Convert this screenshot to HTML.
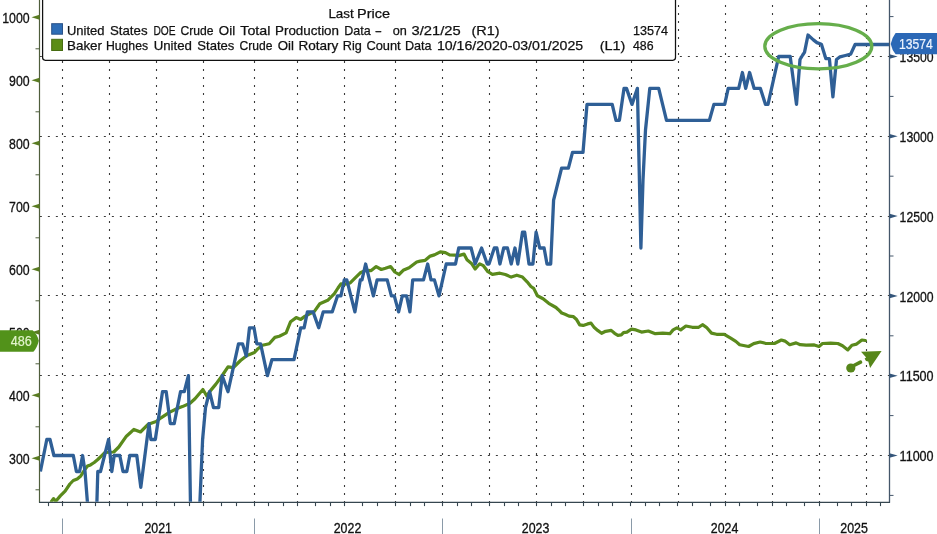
<!DOCTYPE html>
<html><head><meta charset="utf-8"><title>Chart</title>
<style>
html,body{margin:0;padding:0;background:#fff;width:937px;height:534px;overflow:hidden}
svg{display:block;will-change:transform}
.ax{font-family:"Liberation Sans",Arial,sans-serif;font-size:14px;fill:#111;stroke:#111;stroke-width:0.3px}
.lg{white-space:pre;font-family:"Liberation Sans",Arial,sans-serif;font-size:13px;fill:#111;stroke:#111;stroke-width:0.25px}
.vl{font-family:"Liberation Sans",Arial,sans-serif;font-size:14px}
</style></head><body>
<svg width="937" height="534" viewBox="0 0 937 534">
<rect x="0" y="0" width="937" height="534" fill="#ffffff"/>
<line x1="62.5" y1="0" x2="62.5" y2="502.3" stroke="#3a3a3a" stroke-width="1.1" stroke-dasharray="2 6" stroke-dashoffset="3"/>
<line x1="109.5" y1="0" x2="109.5" y2="502.3" stroke="#3a3a3a" stroke-width="1.1" stroke-dasharray="2 6" stroke-dashoffset="3"/>
<line x1="156.5" y1="0" x2="156.5" y2="502.3" stroke="#3a3a3a" stroke-width="1.1" stroke-dasharray="2 6" stroke-dashoffset="3"/>
<line x1="203.5" y1="0" x2="203.5" y2="502.3" stroke="#3a3a3a" stroke-width="1.1" stroke-dasharray="2 6" stroke-dashoffset="3"/>
<line x1="254.5" y1="0" x2="254.5" y2="502.3" stroke="#3a3a3a" stroke-width="1.1" stroke-dasharray="2 6" stroke-dashoffset="3"/>
<line x1="297.5" y1="0" x2="297.5" y2="502.3" stroke="#3a3a3a" stroke-width="1.1" stroke-dasharray="2 6" stroke-dashoffset="3"/>
<line x1="344.5" y1="0" x2="344.5" y2="502.3" stroke="#3a3a3a" stroke-width="1.1" stroke-dasharray="2 6" stroke-dashoffset="3"/>
<line x1="395.5" y1="0" x2="395.5" y2="502.3" stroke="#3a3a3a" stroke-width="1.1" stroke-dasharray="2 6" stroke-dashoffset="3"/>
<line x1="442.5" y1="0" x2="442.5" y2="502.3" stroke="#3a3a3a" stroke-width="1.1" stroke-dasharray="2 6" stroke-dashoffset="3"/>
<line x1="489.5" y1="0" x2="489.5" y2="502.3" stroke="#3a3a3a" stroke-width="1.1" stroke-dasharray="2 6" stroke-dashoffset="3"/>
<line x1="536.5" y1="0" x2="536.5" y2="502.3" stroke="#3a3a3a" stroke-width="1.1" stroke-dasharray="2 6" stroke-dashoffset="3"/>
<line x1="583.5" y1="0" x2="583.5" y2="502.3" stroke="#3a3a3a" stroke-width="1.1" stroke-dasharray="2 6" stroke-dashoffset="3"/>
<line x1="631.5" y1="0" x2="631.5" y2="502.3" stroke="#3a3a3a" stroke-width="1.1" stroke-dasharray="2 6" stroke-dashoffset="3"/>
<line x1="678.5" y1="0" x2="678.5" y2="502.3" stroke="#3a3a3a" stroke-width="1.1" stroke-dasharray="2 6" stroke-dashoffset="3"/>
<line x1="725.5" y1="0" x2="725.5" y2="502.3" stroke="#3a3a3a" stroke-width="1.1" stroke-dasharray="2 6" stroke-dashoffset="3"/>
<line x1="772.5" y1="0" x2="772.5" y2="502.3" stroke="#3a3a3a" stroke-width="1.1" stroke-dasharray="2 6" stroke-dashoffset="3"/>
<line x1="819.5" y1="0" x2="819.5" y2="502.3" stroke="#3a3a3a" stroke-width="1.1" stroke-dasharray="2 6" stroke-dashoffset="3"/>
<line x1="866.5" y1="0" x2="866.5" y2="502.3" stroke="#3a3a3a" stroke-width="1.1" stroke-dasharray="2 6" stroke-dashoffset="3"/>
<line x1="39.5" y1="56.5" x2="889.5" y2="56.5" stroke="#3a3a3a" stroke-width="1.1" stroke-dasharray="2 6" stroke-dashoffset="-0.35"/>
<line x1="39.5" y1="136.5" x2="889.5" y2="136.5" stroke="#3a3a3a" stroke-width="1.1" stroke-dasharray="2 6" stroke-dashoffset="-0.35"/>
<line x1="39.5" y1="216.5" x2="889.5" y2="216.5" stroke="#3a3a3a" stroke-width="1.1" stroke-dasharray="2 6" stroke-dashoffset="-0.35"/>
<line x1="39.5" y1="295.5" x2="889.5" y2="295.5" stroke="#3a3a3a" stroke-width="1.1" stroke-dasharray="2 6" stroke-dashoffset="-0.35"/>
<line x1="39.5" y1="375.5" x2="889.5" y2="375.5" stroke="#3a3a3a" stroke-width="1.1" stroke-dasharray="2 6" stroke-dashoffset="-0.35"/>
<line x1="39.5" y1="455.5" x2="889.5" y2="455.5" stroke="#3a3a3a" stroke-width="1.1" stroke-dasharray="2 6" stroke-dashoffset="-0.35"/>
<line x1="39.5" y1="0" x2="39.5" y2="502.8" stroke="#4f5e3c" stroke-width="1.2"/>
<line x1="889.5" y1="0" x2="889.5" y2="502.8" stroke="#44566a" stroke-width="1.3"/>
<line x1="39.0" y1="502.3" x2="890.0" y2="502.3" stroke="#36464f" stroke-width="1.2"/>
<polygon points="39.5,455.8 39.5,460.8 31.5,458.3" fill="#5a7c22"/>
<text x="9.1" y="463.7" textLength="20.5" lengthAdjust="spacingAndGlyphs" class="ax">300</text>
<polygon points="39.5,392.8 39.5,397.8 31.5,395.3" fill="#5a7c22"/>
<text x="9.1" y="400.7" textLength="20.5" lengthAdjust="spacingAndGlyphs" class="ax">400</text>
<polygon points="39.5,329.8 39.5,334.8 31.5,332.3" fill="#5a7c22"/>
<text x="9.1" y="337.7" textLength="20.5" lengthAdjust="spacingAndGlyphs" class="ax">500</text>
<polygon points="39.5,266.8 39.5,271.8 31.5,269.3" fill="#5a7c22"/>
<text x="9.1" y="274.7" textLength="20.5" lengthAdjust="spacingAndGlyphs" class="ax">600</text>
<polygon points="39.5,203.8 39.5,208.8 31.5,206.3" fill="#5a7c22"/>
<text x="9.1" y="211.7" textLength="20.5" lengthAdjust="spacingAndGlyphs" class="ax">700</text>
<polygon points="39.5,140.8 39.5,145.8 31.5,143.3" fill="#5a7c22"/>
<text x="9.1" y="148.7" textLength="20.5" lengthAdjust="spacingAndGlyphs" class="ax">800</text>
<polygon points="39.5,77.8 39.5,82.8 31.5,80.3" fill="#5a7c22"/>
<text x="9.1" y="85.7" textLength="20.5" lengthAdjust="spacingAndGlyphs" class="ax">900</text>
<polygon points="39.5,14.8 39.5,19.8 31.5,17.3" fill="#5a7c22"/>
<text x="2.2" y="22.7" textLength="27.4" lengthAdjust="spacingAndGlyphs" class="ax">1000</text>
<line x1="35.5" y1="489.8" x2="39.5" y2="489.8" stroke="#4f5e3c" stroke-width="1"/>
<line x1="35.5" y1="426.8" x2="39.5" y2="426.8" stroke="#4f5e3c" stroke-width="1"/>
<line x1="35.5" y1="363.8" x2="39.5" y2="363.8" stroke="#4f5e3c" stroke-width="1"/>
<line x1="35.5" y1="300.8" x2="39.5" y2="300.8" stroke="#4f5e3c" stroke-width="1"/>
<line x1="35.5" y1="237.8" x2="39.5" y2="237.8" stroke="#4f5e3c" stroke-width="1"/>
<line x1="35.5" y1="174.8" x2="39.5" y2="174.8" stroke="#4f5e3c" stroke-width="1"/>
<line x1="35.5" y1="111.8" x2="39.5" y2="111.8" stroke="#4f5e3c" stroke-width="1"/>
<line x1="35.5" y1="48.8" x2="39.5" y2="48.8" stroke="#4f5e3c" stroke-width="1"/>
<polygon points="889.5,453.2 889.5,457.8 897.7,455.5" fill="#34557a"/>
<text x="899.6" y="461.1" textLength="34" lengthAdjust="spacingAndGlyphs" class="ax">11000</text>
<polygon points="889.5,373.4 889.5,378.0 897.7,375.7" fill="#34557a"/>
<text x="899.6" y="381.3" textLength="34" lengthAdjust="spacingAndGlyphs" class="ax">11500</text>
<polygon points="889.5,293.6 889.5,298.2 897.7,295.9" fill="#34557a"/>
<text x="899.6" y="301.5" textLength="34" lengthAdjust="spacingAndGlyphs" class="ax">12000</text>
<polygon points="889.5,213.8 889.5,218.4 897.7,216.1" fill="#34557a"/>
<text x="899.6" y="221.7" textLength="34" lengthAdjust="spacingAndGlyphs" class="ax">12500</text>
<polygon points="889.5,134.0 889.5,138.6 897.7,136.3" fill="#34557a"/>
<text x="899.6" y="141.9" textLength="34" lengthAdjust="spacingAndGlyphs" class="ax">13000</text>
<polygon points="889.5,54.2 889.5,58.8 897.7,56.5" fill="#34557a"/>
<text x="899.6" y="62.1" textLength="34" lengthAdjust="spacingAndGlyphs" class="ax">13500</text>
<line x1="889.5" y1="495.4" x2="893.5" y2="495.4" stroke="#44566a" stroke-width="1"/>
<line x1="889.5" y1="415.6" x2="893.5" y2="415.6" stroke="#44566a" stroke-width="1"/>
<line x1="889.5" y1="335.8" x2="893.5" y2="335.8" stroke="#44566a" stroke-width="1"/>
<line x1="889.5" y1="256.0" x2="893.5" y2="256.0" stroke="#44566a" stroke-width="1"/>
<line x1="889.5" y1="176.2" x2="893.5" y2="176.2" stroke="#44566a" stroke-width="1"/>
<line x1="889.5" y1="96.4" x2="893.5" y2="96.4" stroke="#44566a" stroke-width="1"/>
<line x1="889.5" y1="16.6" x2="893.5" y2="16.6" stroke="#44566a" stroke-width="1"/>
<line x1="48.5" y1="502.3" x2="48.5" y2="506.1" stroke="#36464f" stroke-width="1.1"/>
<line x1="62.5" y1="502.3" x2="62.5" y2="506.1" stroke="#36464f" stroke-width="1.1"/>
<line x1="80.5" y1="502.3" x2="80.5" y2="506.1" stroke="#36464f" stroke-width="1.1"/>
<line x1="95.5" y1="502.3" x2="95.5" y2="506.1" stroke="#36464f" stroke-width="1.1"/>
<line x1="109.5" y1="502.3" x2="109.5" y2="506.1" stroke="#36464f" stroke-width="1.1"/>
<line x1="127.5" y1="502.3" x2="127.5" y2="506.1" stroke="#36464f" stroke-width="1.1"/>
<line x1="142.5" y1="502.3" x2="142.5" y2="506.1" stroke="#36464f" stroke-width="1.1"/>
<line x1="156.5" y1="502.3" x2="156.5" y2="506.1" stroke="#36464f" stroke-width="1.1"/>
<line x1="174.5" y1="502.3" x2="174.5" y2="506.1" stroke="#36464f" stroke-width="1.1"/>
<line x1="189.5" y1="502.3" x2="189.5" y2="506.1" stroke="#36464f" stroke-width="1.1"/>
<line x1="203.5" y1="502.3" x2="203.5" y2="506.1" stroke="#36464f" stroke-width="1.1"/>
<line x1="221.5" y1="502.3" x2="221.5" y2="506.1" stroke="#36464f" stroke-width="1.1"/>
<line x1="236.5" y1="502.3" x2="236.5" y2="506.1" stroke="#36464f" stroke-width="1.1"/>
<line x1="254.5" y1="502.3" x2="254.5" y2="506.1" stroke="#36464f" stroke-width="1.1"/>
<line x1="268.5" y1="502.3" x2="268.5" y2="506.1" stroke="#36464f" stroke-width="1.1"/>
<line x1="283.5" y1="502.3" x2="283.5" y2="506.1" stroke="#36464f" stroke-width="1.1"/>
<line x1="297.5" y1="502.3" x2="297.5" y2="506.1" stroke="#36464f" stroke-width="1.1"/>
<line x1="315.5" y1="502.3" x2="315.5" y2="506.1" stroke="#36464f" stroke-width="1.1"/>
<line x1="330.5" y1="502.3" x2="330.5" y2="506.1" stroke="#36464f" stroke-width="1.1"/>
<line x1="344.5" y1="502.3" x2="344.5" y2="506.1" stroke="#36464f" stroke-width="1.1"/>
<line x1="362.5" y1="502.3" x2="362.5" y2="506.1" stroke="#36464f" stroke-width="1.1"/>
<line x1="377.5" y1="502.3" x2="377.5" y2="506.1" stroke="#36464f" stroke-width="1.1"/>
<line x1="395.5" y1="502.3" x2="395.5" y2="506.1" stroke="#36464f" stroke-width="1.1"/>
<line x1="410.5" y1="502.3" x2="410.5" y2="506.1" stroke="#36464f" stroke-width="1.1"/>
<line x1="424.5" y1="502.3" x2="424.5" y2="506.1" stroke="#36464f" stroke-width="1.1"/>
<line x1="442.5" y1="502.3" x2="442.5" y2="506.1" stroke="#36464f" stroke-width="1.1"/>
<line x1="457.5" y1="502.3" x2="457.5" y2="506.1" stroke="#36464f" stroke-width="1.1"/>
<line x1="471.5" y1="502.3" x2="471.5" y2="506.1" stroke="#36464f" stroke-width="1.1"/>
<line x1="489.5" y1="502.3" x2="489.5" y2="506.1" stroke="#36464f" stroke-width="1.1"/>
<line x1="504.5" y1="502.3" x2="504.5" y2="506.1" stroke="#36464f" stroke-width="1.1"/>
<line x1="518.5" y1="502.3" x2="518.5" y2="506.1" stroke="#36464f" stroke-width="1.1"/>
<line x1="536.5" y1="502.3" x2="536.5" y2="506.1" stroke="#36464f" stroke-width="1.1"/>
<line x1="551.5" y1="502.3" x2="551.5" y2="506.1" stroke="#36464f" stroke-width="1.1"/>
<line x1="565.5" y1="502.3" x2="565.5" y2="506.1" stroke="#36464f" stroke-width="1.1"/>
<line x1="583.5" y1="502.3" x2="583.5" y2="506.1" stroke="#36464f" stroke-width="1.1"/>
<line x1="598.5" y1="502.3" x2="598.5" y2="506.1" stroke="#36464f" stroke-width="1.1"/>
<line x1="612.5" y1="502.3" x2="612.5" y2="506.1" stroke="#36464f" stroke-width="1.1"/>
<line x1="630.5" y1="502.3" x2="630.5" y2="506.1" stroke="#36464f" stroke-width="1.1"/>
<line x1="645.5" y1="502.3" x2="645.5" y2="506.1" stroke="#36464f" stroke-width="1.1"/>
<line x1="659.5" y1="502.3" x2="659.5" y2="506.1" stroke="#36464f" stroke-width="1.1"/>
<line x1="677.5" y1="502.3" x2="677.5" y2="506.1" stroke="#36464f" stroke-width="1.1"/>
<line x1="692.5" y1="502.3" x2="692.5" y2="506.1" stroke="#36464f" stroke-width="1.1"/>
<line x1="710.5" y1="502.3" x2="710.5" y2="506.1" stroke="#36464f" stroke-width="1.1"/>
<line x1="725.5" y1="502.3" x2="725.5" y2="506.1" stroke="#36464f" stroke-width="1.1"/>
<line x1="739.5" y1="502.3" x2="739.5" y2="506.1" stroke="#36464f" stroke-width="1.1"/>
<line x1="757.5" y1="502.3" x2="757.5" y2="506.1" stroke="#36464f" stroke-width="1.1"/>
<line x1="772.5" y1="502.3" x2="772.5" y2="506.1" stroke="#36464f" stroke-width="1.1"/>
<line x1="786.5" y1="502.3" x2="786.5" y2="506.1" stroke="#36464f" stroke-width="1.1"/>
<line x1="804.5" y1="502.3" x2="804.5" y2="506.1" stroke="#36464f" stroke-width="1.1"/>
<line x1="819.5" y1="502.3" x2="819.5" y2="506.1" stroke="#36464f" stroke-width="1.1"/>
<line x1="837.5" y1="502.3" x2="837.5" y2="506.1" stroke="#36464f" stroke-width="1.1"/>
<line x1="851.5" y1="502.3" x2="851.5" y2="506.1" stroke="#36464f" stroke-width="1.1"/>
<line x1="866.5" y1="502.3" x2="866.5" y2="506.1" stroke="#36464f" stroke-width="1.1"/>
<line x1="880.5" y1="502.3" x2="880.5" y2="506.1" stroke="#36464f" stroke-width="1.1"/>
<line x1="62.5" y1="518.5" x2="62.5" y2="534" stroke="#8a9aa8" stroke-width="1"/>
<line x1="254.5" y1="518.5" x2="254.5" y2="534" stroke="#8a9aa8" stroke-width="1"/>
<line x1="442.5" y1="518.5" x2="442.5" y2="534" stroke="#8a9aa8" stroke-width="1"/>
<line x1="631.5" y1="518.5" x2="631.5" y2="534" stroke="#8a9aa8" stroke-width="1"/>
<line x1="819.5" y1="518.5" x2="819.5" y2="534" stroke="#8a9aa8" stroke-width="1"/>
<text x="144.4" y="532.8" textLength="27.6" lengthAdjust="spacingAndGlyphs" class="ax">2021</text>
<text x="333.7" y="532.8" textLength="27.6" lengthAdjust="spacingAndGlyphs" class="ax">2022</text>
<text x="521.8" y="532.8" textLength="27.6" lengthAdjust="spacingAndGlyphs" class="ax">2023</text>
<text x="710.8" y="532.8" textLength="27.6" lengthAdjust="spacingAndGlyphs" class="ax">2024</text>
<text x="840.3" y="532.8" textLength="27.6" lengthAdjust="spacingAndGlyphs" class="ax">2025</text>
<clipPath id="pc"><rect x="40.0" y="0" width="849.0" height="501.8"/></clipPath>
<polyline clip-path="url(#pc)" points="51.5,501.5 53.5,498.6 55.8,501.2 60.3,495.9 65.1,491.1 69.9,484.0 73.3,480.5 77.2,478.9 80.8,475.9 85.1,469.2 87.5,466.1 90.5,464.9 94.2,462.5 97.8,459.5 101.5,455.8 105.0,452.5 113.8,452.0 118.8,447.0 126.4,436.2 130.0,433.0 133.9,429.4 140.5,432.0 148.3,424.2 156.2,421.6 161.4,417.6 169.3,412.4 177.2,408.5 182.4,406.6 190.0,403.2 195.0,398.7 202.9,389.5 206.8,396.0 210.5,390.6 215.7,384.4 221.9,376.0 228.0,366.8 233.4,367.6 240.5,360.5 247.0,355.5 254.5,352.5 258.0,348.7 262.5,345.3 269.2,343.7 274.9,337.4 279.3,336.3 286.1,332.9 290.6,321.7 296.2,317.6 300.7,319.4 305.2,316.1 314.2,311.6 319.8,303.7 327.7,300.3 334.4,293.6 338.0,288.0 340.9,283.8 345.1,284.1 350.2,282.9 355.2,277.9 360.3,272.8 366.1,270.3 371.2,270.6 376.2,266.6 381.3,269.5 385.5,268.3 390.6,266.6 394.8,272.0 399.0,274.5 403.2,270.3 409.1,267.8 416.7,262.0 420.1,261.1 425.2,260.3 430.2,256.1 434.4,254.9 440.3,251.9 445.4,252.7 449.6,254.9 455.0,255.2 458.7,255.6 464.0,254.1 467.0,259.7 471.5,263.4 475.2,269.0 479.7,263.8 483.4,265.7 487.9,271.7 492.4,274.3 499.9,273.2 505.3,274.5 511.2,277.1 516.8,275.2 522.5,277.1 527.1,281.8 530.9,286.5 533.7,288.4 537.4,295.8 543.1,298.7 548.7,303.3 556.0,307.5 558.4,309.7 561.7,313.0 565.1,314.2 569.0,316.1 573.5,316.7 576.3,319.2 579.7,324.8 583.1,325.4 587.6,323.9 591.0,323.1 594.3,327.6 597.7,330.4 601.6,333.3 605.6,331.3 611.2,330.4 614.6,333.3 617.9,335.3 621.3,334.9 623.5,332.7 626.9,332.1 631.4,329.1 635.9,329.9 641.5,332.1 648.3,331.0 655.3,333.7 662.8,333.1 669.9,333.7 673.1,329.9 676.9,327.9 680.7,329.9 685.9,326.0 692.3,327.3 698.7,327.3 702.5,324.7 706.4,327.3 711.5,333.1 716.6,334.3 724.3,334.3 730.7,338.2 735.8,341.4 739.7,344.8 748.6,346.5 753.7,343.6 760.1,342.0 765.3,343.3 774.4,343.5 781.4,340.0 785.0,341.1 789.7,344.7 796.1,342.9 800.2,344.7 806.1,345.2 814.3,344.9 819.0,346.4 822.5,343.5 830.7,343.2 837.8,343.5 842.5,345.8 847.8,349.9 851.9,345.2 856.6,344.1 861.9,340.0 865.4,340.5" fill="none" stroke="#5a8a1c" stroke-width="3.2" stroke-linejoin="round" stroke-linecap="round"/>
<polyline clip-path="url(#pc)" points="40.4,471.5 46.8,439.5 50.0,439.5 53.9,455.5 73.3,455.5 76.4,471.5 79.6,471.5 82.6,455.5 85.0,471.5 88.2,512.0 96.6,512.0 97.8,471.5 100.5,471.5 108.6,439.5 111.8,471.5 114.2,455.5 119.8,455.5 123.0,471.5 126.8,471.5 129.8,455.5 136.8,455.5 140.8,487.4 149.0,423.6 150.9,439.5 155.3,439.5 162.5,391.7 166.2,391.7 170.3,423.6 174.2,423.6 180.5,391.7 184.3,391.7 188.4,375.7 190.6,512.0 199.5,512.0 202.6,439.5 205.5,407.6 207.4,400.0 209.6,391.7 213.5,407.6 218.7,407.6 222.2,375.7 228.0,391.7 238.5,343.8 242.5,343.8 246.3,356.0 249.5,327.8 254.0,327.8 256.8,343.8 260.6,343.8 267.4,375.7 271.9,359.7 294.0,359.7 300.7,327.8 304.1,327.8 307.4,311.9 313.1,311.9 318.7,327.8 323.2,311.9 332.2,311.9 337.5,295.9 340.9,295.9 344.3,279.9 346.8,279.9 354.9,311.9 360.3,279.9 362.0,279.9 365.6,264.0 373.4,295.9 377.1,279.9 387.2,279.9 391.4,295.9 394.3,295.9 398.6,311.9 402.3,295.9 406.6,295.9 409.9,311.9 412.7,279.9 423.5,279.9 427.7,264.0 431.0,279.9 434.4,279.9 439.0,295.9 446.2,264.0 455.5,264.0 458.7,248.0 471.1,248.0 475.2,264.0 481.6,248.0 487.2,264.0 489.0,264.0 494.3,248.0 496.9,248.0 499.9,264.0 503.7,248.0 507.5,248.0 511.2,264.0 515.0,248.0 517.8,264.0 522.5,232.1 524.7,232.1 529.0,264.0 532.9,264.0 536.1,232.1 539.7,248.0 544.1,248.0 547.0,264.0 550.7,264.0 553.6,200.1 561.6,168.2 568.4,168.2 572.5,152.3 583.0,152.3 587.0,104.4 612.2,104.4 616.0,120.3 619.4,120.3 624.0,88.4 626.5,88.4 632.0,104.4 637.4,88.4 640.9,248.0 643.0,180.0 645.5,130.0 649.8,88.4 658.7,88.4 666.5,120.3 709.4,120.3 713.9,104.4 724.7,104.4 728.2,88.4 738.7,88.4 742.4,72.5 745.7,88.4 749.6,72.5 754.1,88.4 760.4,88.4 765.5,104.4 768.0,104.4 778.7,56.5 790.2,56.5 796.5,104.4 800.0,59.5 802.7,55.0 804.5,52.3 808.0,35.0 813.4,39.9 816.9,42.6 821.4,44.3 825.8,58.6 829.4,58.6 832.9,96.8 836.5,59.5 840.0,56.8 845.4,55.5 850.7,54.1 855.1,44.5 889.5,44.5" fill="none" stroke="#2f5f96" stroke-width="3.3" stroke-linejoin="round" stroke-linecap="butt"/>
<path d="M42.6,-5 L42.6,57.6 Q42.6,60.3 45.3,60.3 L672.8,60.3 Q675.5,60.3 675.5,57.6 L675.5,-5 Z" fill="#ffffff" stroke="#111111" stroke-width="1.25"/>
<rect x="51.7" y="23.7" width="10.8" height="10.5" fill="#2e6db6" stroke="#2b5288" stroke-width="1"/>
<rect x="51.7" y="39.3" width="10.8" height="11.2" fill="#5b8c16" stroke="#476c12" stroke-width="1"/>
<text x="328.4" y="18.4" textLength="25.3" lengthAdjust="spacingAndGlyphs" class="lg">Last</text>
<text x="357.0" y="18.4" textLength="33.0" lengthAdjust="spacingAndGlyphs" class="lg">Price</text>
<text x="67.0" y="34.5" textLength="37.5" lengthAdjust="spacingAndGlyphs" class="lg">United</text>
<text x="110.0" y="34.5" textLength="37.5" lengthAdjust="spacingAndGlyphs" class="lg">States</text>
<text x="153.5" y="34.5" textLength="22.1" lengthAdjust="spacingAndGlyphs" class="lg">DOE</text>
<text x="180.6" y="34.5" textLength="33.0" lengthAdjust="spacingAndGlyphs" class="lg">Crude</text>
<text x="218.8" y="34.5" textLength="16.3" lengthAdjust="spacingAndGlyphs" class="lg">Oil</text>
<text x="240.3" y="34.5" textLength="30.1" lengthAdjust="spacingAndGlyphs" class="lg">Total</text>
<text x="275.0" y="34.5" textLength="64.0" lengthAdjust="spacingAndGlyphs" class="lg">Production</text>
<text x="344.2" y="34.5" textLength="26.4" lengthAdjust="spacingAndGlyphs" class="lg">Data</text>
<text x="374.7" y="34.5" textLength="7.3" lengthAdjust="spacingAndGlyphs" class="lg">-</text>
<text x="392.8" y="34.5" textLength="14.1" lengthAdjust="spacingAndGlyphs" class="lg">on</text>
<text x="411.6" y="34.5" textLength="49.1" lengthAdjust="spacingAndGlyphs" class="lg">3/21/25</text>
<text x="471.5" y="34.5" textLength="28.1" lengthAdjust="spacingAndGlyphs" class="lg">(R1)</text>
<text x="633.0" y="34.5" textLength="35.1" lengthAdjust="spacingAndGlyphs" class="lg">13574</text>
<text x="67.0" y="50.3" textLength="35.0" lengthAdjust="spacingAndGlyphs" class="lg">Baker</text>
<text x="105.9" y="50.3" textLength="42.2" lengthAdjust="spacingAndGlyphs" class="lg">Hughes</text>
<text x="153.7" y="50.3" textLength="38.3" lengthAdjust="spacingAndGlyphs" class="lg">United</text>
<text x="197.3" y="50.3" textLength="37.1" lengthAdjust="spacingAndGlyphs" class="lg">States</text>
<text x="239.6" y="50.3" textLength="32.9" lengthAdjust="spacingAndGlyphs" class="lg">Crude</text>
<text x="277.8" y="50.3" textLength="16.2" lengthAdjust="spacingAndGlyphs" class="lg">Oil</text>
<text x="298.4" y="50.3" textLength="39.9" lengthAdjust="spacingAndGlyphs" class="lg">Rotary</text>
<text x="342.8" y="50.3" textLength="19.0" lengthAdjust="spacingAndGlyphs" class="lg">Rig</text>
<text x="366.4" y="50.3" textLength="34.3" lengthAdjust="spacingAndGlyphs" class="lg">Count</text>
<text x="404.9" y="50.3" textLength="26.7" lengthAdjust="spacingAndGlyphs" class="lg">Data</text>
<text x="436.9" y="50.3" textLength="146.3" lengthAdjust="spacingAndGlyphs" class="lg">10/16/2020-03/01/2025</text>
<text x="599.7" y="50.3" textLength="25.7" lengthAdjust="spacingAndGlyphs" class="lg">(L1)</text>
<text x="633.0" y="50.3" textLength="20.6" lengthAdjust="spacingAndGlyphs" class="lg">486</text>
<path d="M890.7,44 Q892.2,37.5 895.6,33.1 L937,33.1 L937,54.3 L895.6,54.3 Q892.2,50.5 890.7,44 Z" fill="#2b68b6"/>
<text x="899" y="48.9" textLength="33.8" lengthAdjust="spacingAndGlyphs" class="vl" fill="#eef4ff" stroke="#eef4ff" stroke-width="0.2">13574</text>
<path d="M0,330.2 L32.6,330.2 Q37.2,334 38.8,340.8 Q37.2,347.8 33.4,351.8 L0,351.8 Z" fill="#52921a"/>
<text x="10.8" y="346.2" textLength="21" lengthAdjust="spacingAndGlyphs" class="vl" fill="#e2f4cc" stroke="#e2f4cc" stroke-width="0.2">486</text>
<ellipse cx="818.3" cy="46.3" rx="53.5" ry="22.6" fill="none" stroke="#66ae4b" stroke-width="3.3"/>
<circle cx="850.8" cy="368" r="4.6" fill="#56861a"/>
<line x1="851" y1="367" x2="860.5" y2="362.2" stroke="#56861a" stroke-width="3.6" stroke-linecap="round"/>
<polygon points="861,351.8 881.6,351.1 870.1,367.9 868.3,361.6 866,361 864.6,358.6 866.2,357.4" fill="#56861a"/>
</svg>
</body></html>
